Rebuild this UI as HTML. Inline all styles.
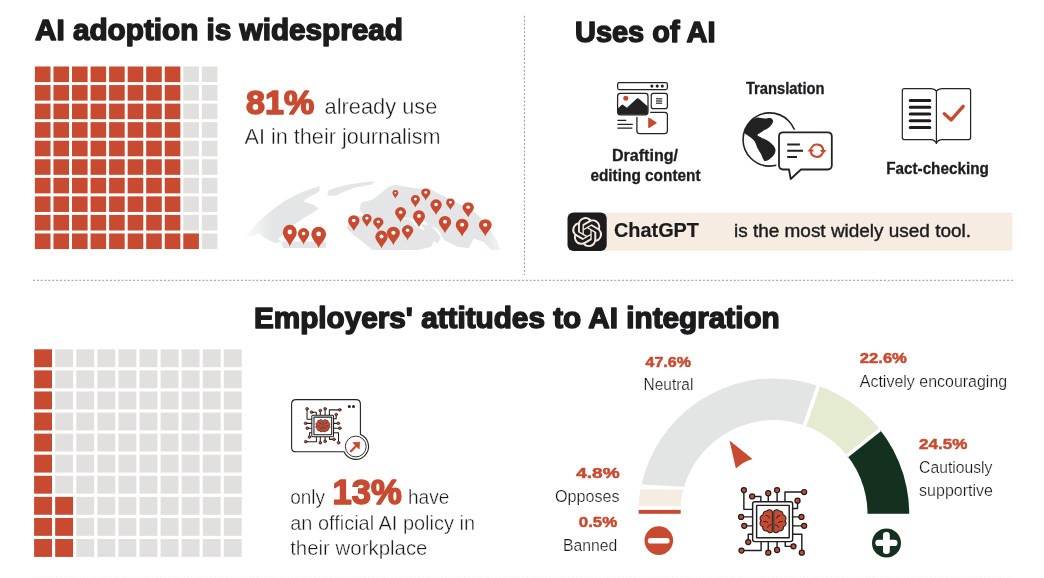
<!DOCTYPE html>
<html lang="en"><head><meta charset="utf-8"><title>AI adoption is widespread</title>
<style>
html,body{margin:0;padding:0;background:#fff}
body{width:1044px;height:578px;overflow:hidden;position:relative}
svg{display:block;position:absolute;left:0;top:0}
text{font-family:"Liberation Sans",Arial,Helvetica,sans-serif}
</style></head><body>
<svg width="1044" height="578" viewBox="0 0 1044 578">
<defs>
<path id="pin" d="M0 0C-.08-.3-.5-.62-.5-.95A.5.5 0 0 1 .5-.95C.5-.62.08-.3 0 0Z"/>
<linearGradient id="mapfade" x1="0" x2="1" y1="0" y2="0">
<stop offset="0" stop-color="#fff" stop-opacity="0"/><stop offset=".12" stop-color="#fff" stop-opacity="1"/>
<stop offset=".9" stop-color="#fff" stop-opacity="1"/><stop offset="1" stop-color="#fff" stop-opacity="0.2"/>
</linearGradient>
<filter id="soft" x="-5%" y="-10%" width="110%" height="120%"><feGaussianBlur stdDeviation=".45"/></filter>
<mask id="mapmask"><rect x="240" y="170" width="270" height="90" fill="url(#mapfade)"/></mask>
<clipPath id="ring"><path d="M638.4 513.800A135.400 135.400 0 0 1 909.200 513.800L867.500 513.800A93.700 93.700 0 0 0 680.100 513.800Z"/></clipPath>
<g id="chip" fill="none" stroke="#1e1e1e" style="stroke-width:var(--sw,2.1)" stroke-linejoin="round" stroke-linecap="round">
<path d="M7.4 4.1V32.2H20.2M19.5 13.3H32.2V21.1M43 8.7V21.1M55.9 4.1V21.1M95.4 6.9H67.4V21.1M85.7 19.5V31H78.6M3.4 43.2H20.2M8 56.3H20.2M13.8 80V68.5H20.2M3.9 92.4H32.6V79.3M43 95.4V79.3M55.9 91.5V79.3M67.8 79.3V86.2H79.8M92 95.4V68.5H78.6M78.6 43.2H91.5M78.6 56.3H95.4"/>
<rect x="20.2" y="21.1" width="58.4" height="58.2" rx="3" fill="#fff"/>
<rect x="26" y="26.4" width="47.6" height="47.2" fill="#fff"/>
<g fill="#C84B31" stroke-width="1.8">
<circle cx="7.4" cy="4.1" r="3.7"/><circle cx="19.5" cy="13.3" r="3.7"/><circle cx="43" cy="8.7" r="3.7"/><circle cx="55.9" cy="4.1" r="3.7"/>
<circle cx="95.4" cy="6.9" r="3.7"/><circle cx="85.7" cy="19.5" r="3.7"/><circle cx="3.4" cy="43.2" r="3.7"/><circle cx="8" cy="56.3" r="3.7"/>
<circle cx="13.8" cy="80" r="3.7"/><circle cx="3.9" cy="92.4" r="3.7"/><circle cx="43" cy="95.4" r="3.7"/><circle cx="55.9" cy="91.5" r="3.7"/>
<circle cx="79.8" cy="86.2" r="3.7"/><circle cx="92" cy="95.4" r="3.7"/><circle cx="91.5" cy="43.2" r="3.7"/><circle cx="95.4" cy="56.3" r="3.7"/>
<path d="M49 35A5 5 0 0 0 41 34.500A5 5 0 0 0 35.500 40A5.500 5.500 0 0 0 32.500 49A5 5 0 0 0 35 57.500A5 5 0 0 0 41.500 63.500A4.500 4.500 0 0 0 49 65ZM51 35A5 5 0 0 1 59 34.500A5 5 0 0 1 64.500 40A5.500 5.500 0 0 1 67.500 49A5 5 0 0 1 65 57.500A5 5 0 0 1 58.500 63.500A4.500 4.500 0 0 1 51 65Z" stroke-width="1.5"/>
</g>
<path d="M40 41q4 0 5 4M36.500 50q4-1 6 1.500M42 58.500q1-4 5-4M60 41q-4 0-5 4M63.500 50q-4-1-6 1.500M58 58.500q-1-4-5-4" stroke-width="1.3"/>
</g>
</defs>
<g stroke="#969696" stroke-width="1" stroke-dasharray="2 1.85" fill="none">
<path d="M33 280.3H1014.8"/><path d="M524.4 15.8V275"/>
</g>
<path d="M33 577.9H1014.8" stroke="#b5b5b5" stroke-width="1" stroke-dasharray="2 1.85" opacity=".35"/>
<text x="35" y="40.4" font-size="29.6" font-weight="700" fill="#1c1c1f" textLength="368" lengthAdjust="spacingAndGlyphs" stroke="#1c1c1f" stroke-width="1.5" stroke-linejoin="round">AI adoption is widespread</text>
<text x="575" y="41.8" font-size="29.6" font-weight="700" fill="#1c1c1f" textLength="140.5" lengthAdjust="spacingAndGlyphs" stroke="#1c1c1f" stroke-width="1.5" stroke-linejoin="round">Uses of AI</text>
<text x="254" y="328" font-size="29.6" font-weight="700" fill="#1c1c1f" textLength="525.7" lengthAdjust="spacingAndGlyphs" stroke="#1c1c1f" stroke-width="1.5" stroke-linejoin="round">Employers' attitudes to AI integration</text>
<g>
<rect x="34.90" y="66.50" width="15.6" height="15.6" fill="#C84B31"/>
<rect x="53.45" y="66.50" width="15.6" height="15.6" fill="#C84B31"/>
<rect x="72.00" y="66.50" width="15.6" height="15.6" fill="#C84B31"/>
<rect x="90.55" y="66.50" width="15.6" height="15.6" fill="#C84B31"/>
<rect x="109.10" y="66.50" width="15.6" height="15.6" fill="#C84B31"/>
<rect x="127.65" y="66.50" width="15.6" height="15.6" fill="#C84B31"/>
<rect x="146.20" y="66.50" width="15.6" height="15.6" fill="#C84B31"/>
<rect x="164.75" y="66.50" width="15.6" height="15.6" fill="#C84B31"/>
<rect x="183.30" y="66.50" width="15.6" height="15.6" fill="#E1E0DE"/>
<rect x="201.85" y="66.50" width="15.6" height="15.6" fill="#E1E0DE"/>
<rect x="34.90" y="85.05" width="15.6" height="15.6" fill="#C84B31"/>
<rect x="53.45" y="85.05" width="15.6" height="15.6" fill="#C84B31"/>
<rect x="72.00" y="85.05" width="15.6" height="15.6" fill="#C84B31"/>
<rect x="90.55" y="85.05" width="15.6" height="15.6" fill="#C84B31"/>
<rect x="109.10" y="85.05" width="15.6" height="15.6" fill="#C84B31"/>
<rect x="127.65" y="85.05" width="15.6" height="15.6" fill="#C84B31"/>
<rect x="146.20" y="85.05" width="15.6" height="15.6" fill="#C84B31"/>
<rect x="164.75" y="85.05" width="15.6" height="15.6" fill="#C84B31"/>
<rect x="183.30" y="85.05" width="15.6" height="15.6" fill="#E1E0DE"/>
<rect x="201.85" y="85.05" width="15.6" height="15.6" fill="#E1E0DE"/>
<rect x="34.90" y="103.60" width="15.6" height="15.6" fill="#C84B31"/>
<rect x="53.45" y="103.60" width="15.6" height="15.6" fill="#C84B31"/>
<rect x="72.00" y="103.60" width="15.6" height="15.6" fill="#C84B31"/>
<rect x="90.55" y="103.60" width="15.6" height="15.6" fill="#C84B31"/>
<rect x="109.10" y="103.60" width="15.6" height="15.6" fill="#C84B31"/>
<rect x="127.65" y="103.60" width="15.6" height="15.6" fill="#C84B31"/>
<rect x="146.20" y="103.60" width="15.6" height="15.6" fill="#C84B31"/>
<rect x="164.75" y="103.60" width="15.6" height="15.6" fill="#C84B31"/>
<rect x="183.30" y="103.60" width="15.6" height="15.6" fill="#E1E0DE"/>
<rect x="201.85" y="103.60" width="15.6" height="15.6" fill="#E1E0DE"/>
<rect x="34.90" y="122.15" width="15.6" height="15.6" fill="#C84B31"/>
<rect x="53.45" y="122.15" width="15.6" height="15.6" fill="#C84B31"/>
<rect x="72.00" y="122.15" width="15.6" height="15.6" fill="#C84B31"/>
<rect x="90.55" y="122.15" width="15.6" height="15.6" fill="#C84B31"/>
<rect x="109.10" y="122.15" width="15.6" height="15.6" fill="#C84B31"/>
<rect x="127.65" y="122.15" width="15.6" height="15.6" fill="#C84B31"/>
<rect x="146.20" y="122.15" width="15.6" height="15.6" fill="#C84B31"/>
<rect x="164.75" y="122.15" width="15.6" height="15.6" fill="#C84B31"/>
<rect x="183.30" y="122.15" width="15.6" height="15.6" fill="#E1E0DE"/>
<rect x="201.85" y="122.15" width="15.6" height="15.6" fill="#E1E0DE"/>
<rect x="34.90" y="140.70" width="15.6" height="15.6" fill="#C84B31"/>
<rect x="53.45" y="140.70" width="15.6" height="15.6" fill="#C84B31"/>
<rect x="72.00" y="140.70" width="15.6" height="15.6" fill="#C84B31"/>
<rect x="90.55" y="140.70" width="15.6" height="15.6" fill="#C84B31"/>
<rect x="109.10" y="140.70" width="15.6" height="15.6" fill="#C84B31"/>
<rect x="127.65" y="140.70" width="15.6" height="15.6" fill="#C84B31"/>
<rect x="146.20" y="140.70" width="15.6" height="15.6" fill="#C84B31"/>
<rect x="164.75" y="140.70" width="15.6" height="15.6" fill="#C84B31"/>
<rect x="183.30" y="140.70" width="15.6" height="15.6" fill="#E1E0DE"/>
<rect x="201.85" y="140.70" width="15.6" height="15.6" fill="#E1E0DE"/>
<rect x="34.90" y="159.25" width="15.6" height="15.6" fill="#C84B31"/>
<rect x="53.45" y="159.25" width="15.6" height="15.6" fill="#C84B31"/>
<rect x="72.00" y="159.25" width="15.6" height="15.6" fill="#C84B31"/>
<rect x="90.55" y="159.25" width="15.6" height="15.6" fill="#C84B31"/>
<rect x="109.10" y="159.25" width="15.6" height="15.6" fill="#C84B31"/>
<rect x="127.65" y="159.25" width="15.6" height="15.6" fill="#C84B31"/>
<rect x="146.20" y="159.25" width="15.6" height="15.6" fill="#C84B31"/>
<rect x="164.75" y="159.25" width="15.6" height="15.6" fill="#C84B31"/>
<rect x="183.30" y="159.25" width="15.6" height="15.6" fill="#E1E0DE"/>
<rect x="201.85" y="159.25" width="15.6" height="15.6" fill="#E1E0DE"/>
<rect x="34.90" y="177.80" width="15.6" height="15.6" fill="#C84B31"/>
<rect x="53.45" y="177.80" width="15.6" height="15.6" fill="#C84B31"/>
<rect x="72.00" y="177.80" width="15.6" height="15.6" fill="#C84B31"/>
<rect x="90.55" y="177.80" width="15.6" height="15.6" fill="#C84B31"/>
<rect x="109.10" y="177.80" width="15.6" height="15.6" fill="#C84B31"/>
<rect x="127.65" y="177.80" width="15.6" height="15.6" fill="#C84B31"/>
<rect x="146.20" y="177.80" width="15.6" height="15.6" fill="#C84B31"/>
<rect x="164.75" y="177.80" width="15.6" height="15.6" fill="#C84B31"/>
<rect x="183.30" y="177.80" width="15.6" height="15.6" fill="#E1E0DE"/>
<rect x="201.85" y="177.80" width="15.6" height="15.6" fill="#E1E0DE"/>
<rect x="34.90" y="196.35" width="15.6" height="15.6" fill="#C84B31"/>
<rect x="53.45" y="196.35" width="15.6" height="15.6" fill="#C84B31"/>
<rect x="72.00" y="196.35" width="15.6" height="15.6" fill="#C84B31"/>
<rect x="90.55" y="196.35" width="15.6" height="15.6" fill="#C84B31"/>
<rect x="109.10" y="196.35" width="15.6" height="15.6" fill="#C84B31"/>
<rect x="127.65" y="196.35" width="15.6" height="15.6" fill="#C84B31"/>
<rect x="146.20" y="196.35" width="15.6" height="15.6" fill="#C84B31"/>
<rect x="164.75" y="196.35" width="15.6" height="15.6" fill="#C84B31"/>
<rect x="183.30" y="196.35" width="15.6" height="15.6" fill="#E1E0DE"/>
<rect x="201.85" y="196.35" width="15.6" height="15.6" fill="#E1E0DE"/>
<rect x="34.90" y="214.90" width="15.6" height="15.6" fill="#C84B31"/>
<rect x="53.45" y="214.90" width="15.6" height="15.6" fill="#C84B31"/>
<rect x="72.00" y="214.90" width="15.6" height="15.6" fill="#C84B31"/>
<rect x="90.55" y="214.90" width="15.6" height="15.6" fill="#C84B31"/>
<rect x="109.10" y="214.90" width="15.6" height="15.6" fill="#C84B31"/>
<rect x="127.65" y="214.90" width="15.6" height="15.6" fill="#C84B31"/>
<rect x="146.20" y="214.90" width="15.6" height="15.6" fill="#C84B31"/>
<rect x="164.75" y="214.90" width="15.6" height="15.6" fill="#C84B31"/>
<rect x="183.30" y="214.90" width="15.6" height="15.6" fill="#E1E0DE"/>
<rect x="201.85" y="214.90" width="15.6" height="15.6" fill="#E1E0DE"/>
<rect x="34.90" y="233.45" width="15.6" height="15.6" fill="#C84B31"/>
<rect x="53.45" y="233.45" width="15.6" height="15.6" fill="#C84B31"/>
<rect x="72.00" y="233.45" width="15.6" height="15.6" fill="#C84B31"/>
<rect x="90.55" y="233.45" width="15.6" height="15.6" fill="#C84B31"/>
<rect x="109.10" y="233.45" width="15.6" height="15.6" fill="#C84B31"/>
<rect x="127.65" y="233.45" width="15.6" height="15.6" fill="#C84B31"/>
<rect x="146.20" y="233.45" width="15.6" height="15.6" fill="#C84B31"/>
<rect x="164.75" y="233.45" width="15.6" height="15.6" fill="#C84B31"/>
<rect x="183.30" y="233.45" width="15.6" height="15.6" fill="#C84B31"/>
<rect x="201.85" y="233.45" width="15.6" height="15.6" fill="#E1E0DE"/>
</g>
<g>
<rect x="34.10" y="349.30" width="17.9" height="17.9" fill="#C84B31"/>
<rect x="55.18" y="349.30" width="17.9" height="17.9" fill="#E1E0DE"/>
<rect x="76.26" y="349.30" width="17.9" height="17.9" fill="#E1E0DE"/>
<rect x="97.34" y="349.30" width="17.9" height="17.9" fill="#E1E0DE"/>
<rect x="118.42" y="349.30" width="17.9" height="17.9" fill="#E1E0DE"/>
<rect x="139.50" y="349.30" width="17.9" height="17.9" fill="#E1E0DE"/>
<rect x="160.58" y="349.30" width="17.9" height="17.9" fill="#E1E0DE"/>
<rect x="181.66" y="349.30" width="17.9" height="17.9" fill="#E1E0DE"/>
<rect x="202.74" y="349.30" width="17.9" height="17.9" fill="#E1E0DE"/>
<rect x="223.82" y="349.30" width="17.9" height="17.9" fill="#E1E0DE"/>
<rect x="34.10" y="370.38" width="17.9" height="17.9" fill="#C84B31"/>
<rect x="55.18" y="370.38" width="17.9" height="17.9" fill="#E1E0DE"/>
<rect x="76.26" y="370.38" width="17.9" height="17.9" fill="#E1E0DE"/>
<rect x="97.34" y="370.38" width="17.9" height="17.9" fill="#E1E0DE"/>
<rect x="118.42" y="370.38" width="17.9" height="17.9" fill="#E1E0DE"/>
<rect x="139.50" y="370.38" width="17.9" height="17.9" fill="#E1E0DE"/>
<rect x="160.58" y="370.38" width="17.9" height="17.9" fill="#E1E0DE"/>
<rect x="181.66" y="370.38" width="17.9" height="17.9" fill="#E1E0DE"/>
<rect x="202.74" y="370.38" width="17.9" height="17.9" fill="#E1E0DE"/>
<rect x="223.82" y="370.38" width="17.9" height="17.9" fill="#E1E0DE"/>
<rect x="34.10" y="391.46" width="17.9" height="17.9" fill="#C84B31"/>
<rect x="55.18" y="391.46" width="17.9" height="17.9" fill="#E1E0DE"/>
<rect x="76.26" y="391.46" width="17.9" height="17.9" fill="#E1E0DE"/>
<rect x="97.34" y="391.46" width="17.9" height="17.9" fill="#E1E0DE"/>
<rect x="118.42" y="391.46" width="17.9" height="17.9" fill="#E1E0DE"/>
<rect x="139.50" y="391.46" width="17.9" height="17.9" fill="#E1E0DE"/>
<rect x="160.58" y="391.46" width="17.9" height="17.9" fill="#E1E0DE"/>
<rect x="181.66" y="391.46" width="17.9" height="17.9" fill="#E1E0DE"/>
<rect x="202.74" y="391.46" width="17.9" height="17.9" fill="#E1E0DE"/>
<rect x="223.82" y="391.46" width="17.9" height="17.9" fill="#E1E0DE"/>
<rect x="34.10" y="412.54" width="17.9" height="17.9" fill="#C84B31"/>
<rect x="55.18" y="412.54" width="17.9" height="17.9" fill="#E1E0DE"/>
<rect x="76.26" y="412.54" width="17.9" height="17.9" fill="#E1E0DE"/>
<rect x="97.34" y="412.54" width="17.9" height="17.9" fill="#E1E0DE"/>
<rect x="118.42" y="412.54" width="17.9" height="17.9" fill="#E1E0DE"/>
<rect x="139.50" y="412.54" width="17.9" height="17.9" fill="#E1E0DE"/>
<rect x="160.58" y="412.54" width="17.9" height="17.9" fill="#E1E0DE"/>
<rect x="181.66" y="412.54" width="17.9" height="17.9" fill="#E1E0DE"/>
<rect x="202.74" y="412.54" width="17.9" height="17.9" fill="#E1E0DE"/>
<rect x="223.82" y="412.54" width="17.9" height="17.9" fill="#E1E0DE"/>
<rect x="34.10" y="433.62" width="17.9" height="17.9" fill="#C84B31"/>
<rect x="55.18" y="433.62" width="17.9" height="17.9" fill="#E1E0DE"/>
<rect x="76.26" y="433.62" width="17.9" height="17.9" fill="#E1E0DE"/>
<rect x="97.34" y="433.62" width="17.9" height="17.9" fill="#E1E0DE"/>
<rect x="118.42" y="433.62" width="17.9" height="17.9" fill="#E1E0DE"/>
<rect x="139.50" y="433.62" width="17.9" height="17.9" fill="#E1E0DE"/>
<rect x="160.58" y="433.62" width="17.9" height="17.9" fill="#E1E0DE"/>
<rect x="181.66" y="433.62" width="17.9" height="17.9" fill="#E1E0DE"/>
<rect x="202.74" y="433.62" width="17.9" height="17.9" fill="#E1E0DE"/>
<rect x="223.82" y="433.62" width="17.9" height="17.9" fill="#E1E0DE"/>
<rect x="34.10" y="454.70" width="17.9" height="17.9" fill="#C84B31"/>
<rect x="55.18" y="454.70" width="17.9" height="17.9" fill="#E1E0DE"/>
<rect x="76.26" y="454.70" width="17.9" height="17.9" fill="#E1E0DE"/>
<rect x="97.34" y="454.70" width="17.9" height="17.9" fill="#E1E0DE"/>
<rect x="118.42" y="454.70" width="17.9" height="17.9" fill="#E1E0DE"/>
<rect x="139.50" y="454.70" width="17.9" height="17.9" fill="#E1E0DE"/>
<rect x="160.58" y="454.70" width="17.9" height="17.9" fill="#E1E0DE"/>
<rect x="181.66" y="454.70" width="17.9" height="17.9" fill="#E1E0DE"/>
<rect x="202.74" y="454.70" width="17.9" height="17.9" fill="#E1E0DE"/>
<rect x="223.82" y="454.70" width="17.9" height="17.9" fill="#E1E0DE"/>
<rect x="34.10" y="475.78" width="17.9" height="17.9" fill="#C84B31"/>
<rect x="55.18" y="475.78" width="17.9" height="17.9" fill="#E1E0DE"/>
<rect x="76.26" y="475.78" width="17.9" height="17.9" fill="#E1E0DE"/>
<rect x="97.34" y="475.78" width="17.9" height="17.9" fill="#E1E0DE"/>
<rect x="118.42" y="475.78" width="17.9" height="17.9" fill="#E1E0DE"/>
<rect x="139.50" y="475.78" width="17.9" height="17.9" fill="#E1E0DE"/>
<rect x="160.58" y="475.78" width="17.9" height="17.9" fill="#E1E0DE"/>
<rect x="181.66" y="475.78" width="17.9" height="17.9" fill="#E1E0DE"/>
<rect x="202.74" y="475.78" width="17.9" height="17.9" fill="#E1E0DE"/>
<rect x="223.82" y="475.78" width="17.9" height="17.9" fill="#E1E0DE"/>
<rect x="34.10" y="496.86" width="17.9" height="17.9" fill="#C84B31"/>
<rect x="55.18" y="496.86" width="17.9" height="17.9" fill="#C84B31"/>
<rect x="76.26" y="496.86" width="17.9" height="17.9" fill="#E1E0DE"/>
<rect x="97.34" y="496.86" width="17.9" height="17.9" fill="#E1E0DE"/>
<rect x="118.42" y="496.86" width="17.9" height="17.9" fill="#E1E0DE"/>
<rect x="139.50" y="496.86" width="17.9" height="17.9" fill="#E1E0DE"/>
<rect x="160.58" y="496.86" width="17.9" height="17.9" fill="#E1E0DE"/>
<rect x="181.66" y="496.86" width="17.9" height="17.9" fill="#E1E0DE"/>
<rect x="202.74" y="496.86" width="17.9" height="17.9" fill="#E1E0DE"/>
<rect x="223.82" y="496.86" width="17.9" height="17.9" fill="#E1E0DE"/>
<rect x="34.10" y="517.94" width="17.9" height="17.9" fill="#C84B31"/>
<rect x="55.18" y="517.94" width="17.9" height="17.9" fill="#C84B31"/>
<rect x="76.26" y="517.94" width="17.9" height="17.9" fill="#E1E0DE"/>
<rect x="97.34" y="517.94" width="17.9" height="17.9" fill="#E1E0DE"/>
<rect x="118.42" y="517.94" width="17.9" height="17.9" fill="#E1E0DE"/>
<rect x="139.50" y="517.94" width="17.9" height="17.9" fill="#E1E0DE"/>
<rect x="160.58" y="517.94" width="17.9" height="17.9" fill="#E1E0DE"/>
<rect x="181.66" y="517.94" width="17.9" height="17.9" fill="#E1E0DE"/>
<rect x="202.74" y="517.94" width="17.9" height="17.9" fill="#E1E0DE"/>
<rect x="223.82" y="517.94" width="17.9" height="17.9" fill="#E1E0DE"/>
<rect x="34.10" y="539.02" width="17.9" height="17.9" fill="#C84B31"/>
<rect x="55.18" y="539.02" width="17.9" height="17.9" fill="#C84B31"/>
<rect x="76.26" y="539.02" width="17.9" height="17.9" fill="#E1E0DE"/>
<rect x="97.34" y="539.02" width="17.9" height="17.9" fill="#E1E0DE"/>
<rect x="118.42" y="539.02" width="17.9" height="17.9" fill="#E1E0DE"/>
<rect x="139.50" y="539.02" width="17.9" height="17.9" fill="#E1E0DE"/>
<rect x="160.58" y="539.02" width="17.9" height="17.9" fill="#E1E0DE"/>
<rect x="181.66" y="539.02" width="17.9" height="17.9" fill="#E1E0DE"/>
<rect x="202.74" y="539.02" width="17.9" height="17.9" fill="#E1E0DE"/>
<rect x="223.82" y="539.02" width="17.9" height="17.9" fill="#E1E0DE"/>
</g>
<text x="246" y="113.7" font-size="33.8" font-weight="700" fill="#C84B31" textLength="68.2" lengthAdjust="spacingAndGlyphs" stroke="#C84B31" stroke-width="1.6" stroke-linejoin="round">81%</text>
<text x="324.6" y="113.7" font-size="22" font-weight="400" fill="#161616" textLength="112.7" lengthAdjust="spacingAndGlyphs" stroke="#fff" stroke-width="0.4" stroke-linejoin="round">already use</text>
<text x="244.5" y="143.9" font-size="22" font-weight="400" fill="#161616" textLength="196" lengthAdjust="spacingAndGlyphs" stroke="#fff" stroke-width="0.4" stroke-linejoin="round">AI in their journalism</text>
<g mask="url(#mapmask)" fill="#E4E5E6" filter="url(#soft)">
<path d="M 245.8 236.0 C 254.5 224.3 269.1 211.2 283.6 201.8 C 295.2 194.5 306.9 189.4 320.0 186.2 L 319.2 191.6 L 312.7 195.3 L 305.4 198.9 L 304.0 201.8 L 314.1 204.7 L 318.5 209.1 L 311.2 213.4 L 304.0 217.8 L 296.0 223.6 L 288.0 229.4 L 282.2 235.2 L 278.1 239.2 L 281.4 241.5 L 276.3 243.2 L 269.1 240.3 L 261.8 236.0 L 258.9 233.1 L 253.1 236.0 Z"/>
<path d="M 328.7 190.2 C 338.9 185.8 356.3 182.2 375.2 181.2 L 371.6 184.4 L 356.3 187.3 L 344.7 191.6 L 334.5 196.0 L 327.2 195.5 Z"/>
<path d="M 281.4 241.5 L 325.8 241.5 L 325.8 247.9 L 282.9 247.9 Z"/>
<path d="M 359.5 209.2 L 361.2 202.7 L 372.6 199.4 L 379.1 194.5 L 388.9 186.4 L 395.4 184.8 L 413.3 188.0 L 431.2 189.7 L 454.0 201.1 L 475.2 212.5 L 486.6 223.9 L 496.4 240.1 L 500.4 249.9 L 491.5 249.9 L 483.3 241.8 L 473.6 238.5 L 468.7 248.3 L 457.3 246.7 L 444.2 240.1 L 437.7 228.7 L 427.9 224.7 L 424.7 220.3 L 411.7 219.0 L 405.1 218.0 L 395.4 219.3 L 385.6 217.7 L 372.6 217.7 L 364.4 215.7 Z"/>
<path d="M 346.5 228.7 L 349.8 220.6 L 359.5 215.4 L 372.6 216.7 L 393.7 218.6 L 410.0 219.3 L 416.5 227.1 L 424.7 230.4 L 434.5 240.1 L 431.2 246.7 L 418.2 249.9 L 372.6 249.9 L 356.3 236.9 Z"/>
<path d="M 421.4 223.9 L 431.2 225.5 L 441.0 236.9 L 437.7 243.4 L 427.9 236.9 Z"/>
</g>
<g fill="#C84B31">
<g transform="translate(289.8 246.6) scale(14.02 15.04)"><use href="#pin"/><circle cx="0" cy="-.97" r=".16" fill="#fff"/></g>
<g transform="translate(303.6 244.5) scale(11.21 11.39)"><use href="#pin"/><circle cx="0" cy="-.97" r=".16" fill="#fff"/></g>
<g transform="translate(318.7 248.2) scale(14.80 14.72)"><use href="#pin"/><circle cx="0" cy="-.97" r=".16" fill="#fff"/></g>
<g transform="translate(353.8 231.1) scale(11.40 11.01)"><use href="#pin"/><circle cx="0" cy="-.97" r=".16" fill="#fff"/></g>
<g transform="translate(366.9 227.0) scale(9.45 8.99)"><use href="#pin"/><circle cx="0" cy="-.97" r=".16" fill="#fff"/></g>
<g transform="translate(378.3 230.3) scale(10.42 8.76)"><use href="#pin"/><circle cx="0" cy="-.97" r=".16" fill="#fff"/></g>
<g transform="translate(400.6 222.4) scale(11.07 10.56)"><use href="#pin"/><circle cx="0" cy="-.97" r=".16" fill="#fff"/></g>
<g transform="translate(395.4 198.5) scale(5.86 5.84)"><use href="#pin"/><circle cx="0" cy="-.97" r=".16" fill="#fff"/></g>
<g transform="translate(415.4 207.5) scale(9.12 8.65)"><use href="#pin"/><circle cx="0" cy="-.97" r=".16" fill="#fff"/></g>
<g transform="translate(425.8 200.6) scale(9.12 8.42)"><use href="#pin"/><circle cx="0" cy="-.97" r=".16" fill="#fff"/></g>
<g transform="translate(419.0 227.3) scale(12.05 11.68)"><use href="#pin"/><circle cx="0" cy="-.97" r=".16" fill="#fff"/></g>
<g transform="translate(436.1 214.8) scale(11.40 10.67)"><use href="#pin"/><circle cx="0" cy="-.97" r=".16" fill="#fff"/></g>
<g transform="translate(450.4 209.9) scale(8.47 7.86)"><use href="#pin"/><circle cx="0" cy="-.97" r=".16" fill="#fff"/></g>
<g transform="translate(468.2 217.2) scale(11.40 10.33)"><use href="#pin"/><circle cx="0" cy="-.97" r=".16" fill="#fff"/></g>
<g transform="translate(445.0 233.2) scale(12.38 11.91)"><use href="#pin"/><circle cx="0" cy="-.97" r=".16" fill="#fff"/></g>
<g transform="translate(462.1 236.4) scale(12.70 12.13)"><use href="#pin"/><circle cx="0" cy="-.97" r=".16" fill="#fff"/></g>
<g transform="translate(485.3 236.4) scale(12.70 11.91)"><use href="#pin"/><circle cx="0" cy="-.97" r=".16" fill="#fff"/></g>
<g transform="translate(407.6 240.4) scale(11.40 10.56)"><use href="#pin"/><circle cx="0" cy="-.97" r=".16" fill="#fff"/></g>
<g transform="translate(381.5 248.5) scale(12.38 12.36)"><use href="#pin"/><circle cx="0" cy="-.97" r=".16" fill="#fff"/></g>
<g transform="translate(393.4 245.2) scale(13.03 12.80)"><use href="#pin"/><circle cx="0" cy="-.97" r=".16" fill="#fff"/></g>
</g>
<g fill="none" stroke="#222" stroke-width="1.25" stroke-linejoin="round">
<rect x="617.6" y="82.6" width="49.8" height="7" rx="1.8" fill="#fff"/>
<rect x="651.2" y="93.4" width="16.2" height="15.2" rx="2.2" fill="#fff"/>
<rect x="636.9" y="112.3" width="30.5" height="21.2" rx="2.8" fill="#fff"/>
<rect x="617.6" y="93.4" width="30.4" height="21.4" rx="2.8" fill="#fff" stroke="#fff" stroke-width="4.5"/>
<rect x="617.6" y="93.4" width="30.4" height="21.4" rx="2.8" fill="#fff"/>
<path d="M617.4 120.4H626.2M617.4 124.3H632.8M617.4 128.1H632.3" stroke-width="1.2"/>
</g>
<path d="M617.8 108.500L621.900 104.700Q622.600 104.200 623.300 104.900L626.900 107.700L636.800 98.600Q637.700 97.900 638.600 98.600L647.800 106.600V112Q647.800 114.600 645.200 114.600H620.400Q617.800 114.600 617.800 112Z" fill="#222"/>
<circle cx="625.8" cy="98.2" r="2.5" fill="#C84B31"/>
<path d="M648.9 118.300L655.900 122.800L648.900 127.300Z" fill="#C84B31" stroke="#C84B31" stroke-width="1.4" stroke-linejoin="round"/>
<g fill="#222"><circle cx="651.9" cy="86.1" r="1.55"/><circle cx="657.2" cy="86.1" r="1.55"/><circle cx="662.3" cy="86.1" r="1.55"/></g>
<path d="M656 98.600H662.200M656 100.200H662.200M656 101.800H662.200M656 103.400H662.200" stroke="#555" stroke-width="1.1"/>
<text x="645" y="160.5" font-size="16" font-weight="700" fill="#1c1c1f" text-anchor="middle" textLength="66" lengthAdjust="spacingAndGlyphs" stroke="#1c1c1f" stroke-width="0.3" stroke-linejoin="round">Drafting/</text>
<text x="645.5" y="181.4" font-size="16" font-weight="700" fill="#1c1c1f" text-anchor="middle" textLength="110.2" lengthAdjust="spacingAndGlyphs" stroke="#1c1c1f" stroke-width="0.3" stroke-linejoin="round">editing content</text>
<text x="745.9" y="94.1" font-size="15.8" font-weight="700" fill="#1c1c1f" textLength="78.7" lengthAdjust="spacingAndGlyphs" stroke="#1c1c1f" stroke-width="0.3" stroke-linejoin="round">Translation</text>
<g>
<circle cx="769.65" cy="139.5" r="26.6" fill="#fff" stroke="#222" stroke-width="1.6"/>
<path d="M744.1 131.8C744.4 130.1 746.4 126.7 748.0 124.6C749.5 122.5 751.8 120.3 753.5 119.1C755.2 117.9 756.1 117.5 757.9 117.4C759.8 117.3 762.5 118.4 764.6 118.5C766.6 118.6 768.7 117.7 770.1 118.0C771.5 118.2 772.5 119.3 772.9 120.2C773.3 121.1 773.0 122.3 772.3 123.5C771.7 124.7 770.3 126.3 769.0 127.4C767.7 128.5 766.1 129.2 764.6 130.1C763.1 131.1 761.3 132.1 760.1 132.9C758.9 133.7 757.1 134.3 757.4 135.1C757.7 136.0 760.1 137.0 761.8 137.9C763.6 138.8 766.1 139.5 767.9 140.7C769.7 141.9 771.6 143.6 772.9 145.1C774.1 146.6 775.2 148.1 775.4 149.5C775.7 151.0 775.2 152.6 774.5 154.0C773.8 155.3 772.4 156.7 771.2 157.8C770.0 158.9 768.5 160.1 767.3 160.6C766.2 161.1 765.3 161.3 764.6 160.9C763.8 160.6 763.6 159.6 762.9 158.4C762.3 157.1 761.6 155.2 760.7 153.4C759.8 151.7 758.2 149.5 757.4 147.9C756.5 146.2 756.4 144.7 755.7 143.4C755.1 142.1 754.5 141.2 753.5 140.1C752.5 139.0 750.8 137.7 749.6 136.8C748.4 135.9 747.2 135.4 746.3 134.6C745.4 133.7 743.8 133.5 744.1 131.8Z" fill="#222"/>
<path d="M783.2 132.4H827.6Q831.8 132.4 831.8 136.600V165.300Q831.8 169.500 827.6 169.500H801L790.700 179L789 169.500H783.200Q779 169.500 779 165.300V136.600Q779 132.400 783.200 132.400Z" fill="#fff" stroke="#fff" stroke-width="5.5" stroke-linejoin="round"/>
<path d="M783.2 132.4H827.6Q831.8 132.4 831.8 136.600V165.300Q831.8 169.500 827.6 169.500H801L790.700 179L789 169.500H783.200Q779 169.500 779 165.300V136.600Q779 132.400 783.200 132.400Z" fill="#fff" stroke="#222" stroke-width="1.8" stroke-linejoin="round"/>
<path d="M787.2 144.500H799.900M787.200 150.700H803M787.200 157H797" stroke="#222" stroke-width="2"/>
<g fill="none" stroke="#C84B31" stroke-width="2.1"><path d="M811.400 148.100A6.200 6.200 0 0 1 823.200 150.200"/><path d="M822.600 153.300A6.200 6.200 0 0 1 810.800 151.200"/></g>
<path d="M819.800 150L826.600 150L823.200 154ZM807.400 151.400L814.200 151.400L810.800 147.400Z" fill="#C84B31"/>
</g>
<g fill="#fff" stroke="#222" stroke-width="1.2" stroke-linejoin="round">
<path d="M936.4 91.2Q934.5 88.700 930.500 88.700H904.3Q902.3 88.700 902.3 90.700V137.600Q902.3 139.600 904.3 139.600H930.500Q935 139.600 936.4 143.500Q937.800 139.600 942.300 139.600H968.6Q970.6 139.600 970.6 137.600V90.700Q970.6 88.700 968.6 88.700H942.300Q938.300 88.700 936.4 91.2Z"/>
<path d="M936.4 91.2V143"/>
</g>
<path d="M910.2 100.500H929.800M910.200 107.300H929.800M910.200 114.100H929.800M910.200 120.800H929.800M910.200 127.600H929.800" stroke="#1c1c1c" stroke-width="3" stroke-linecap="round"/>
<path d="M944.3 113.700L951.200 119.900L963.200 106.400" fill="none" stroke="#C84B31" stroke-width="3.4" stroke-linecap="round" stroke-linejoin="round"/>
<text x="886.2" y="174" font-size="15.8" font-weight="700" fill="#1c1c1f" textLength="102.6" lengthAdjust="spacingAndGlyphs" stroke="#1c1c1f" stroke-width="0.3" stroke-linejoin="round">Fact-checking</text>
<rect x="575" y="212.6" width="437.4" height="38.2" rx="3" fill="#F6ECE1"/>
<rect x="567.5" y="212.6" width="39.2" height="38.4" rx="6" fill="#1c1c1f"/>
<g transform="translate(572.1 217.1) scale(1.25)" fill="#F3E9DC"><path d="M22.2819 9.8211a5.9847 5.9847 0 0 0-.5157-4.9108 6.0462 6.0462 0 0 0-6.5098-2.9A6.0651 6.0651 0 0 0 4.9807 4.1818a5.9847 5.9847 0 0 0-3.9977 2.9 6.0462 6.0462 0 0 0 .7427 7.0966 5.98 5.98 0 0 0 .511 4.9107 6.051 6.051 0 0 0 6.5146 2.9001A5.9847 5.9847 0 0 0 13.2599 24a6.0557 6.0557 0 0 0 5.7718-4.2058 5.9894 5.9894 0 0 0 3.9977-2.9001 6.0557 6.0557 0 0 0-.7475-7.0729zm-9.022 12.6081a4.4755 4.4755 0 0 1-2.8764-1.0408l.1419-.0804 4.7783-2.7582a.7948.7948 0 0 0 .3927-.6813v-6.7369l2.02 1.1686a.071.071 0 0 1 .038.052v5.5826a4.504 4.504 0 0 1-4.4945 4.4944zm-9.6607-4.1254a4.4708 4.4708 0 0 1-.5346-3.0137l.142.0852 4.783 2.7582a.7712.7712 0 0 0 .7806 0l5.8428-3.3685v2.3324a.0804.0804 0 0 1-.0332.0615L9.74 19.9502a4.4992 4.4992 0 0 1-6.1408-1.6464zM2.3408 7.8956a4.485 4.485 0 0 1 2.3655-1.9728V11.6a.7664.7664 0 0 0 .3879.6765l5.8144 3.3543-2.0201 1.1685a.0757.0757 0 0 1-.071 0l-4.8303-2.7865A4.504 4.504 0 0 1 2.3408 7.872zm16.5963 3.8558L13.1038 8.364 15.1192 7.2a.0757.0757 0 0 1 .071 0l4.8303 2.7913a4.4944 4.4944 0 0 1-.6765 8.1042v-5.6772a.79.79 0 0 0-.407-.667zm2.0107-3.0231l-.142-.0852-4.7735-2.7818a.7759.7759 0 0 0-.7854 0L9.409 9.2297V6.8974a.0662.0662 0 0 1 .0284-.0615l4.8303-2.7866a4.4992 4.4992 0 0 1 6.6802 4.66zM8.3065 12.863l-2.02-1.1638a.0804.0804 0 0 1-.038-.0567V6.0742a4.4992 4.4992 0 0 1 7.3757-3.4537l-.142.0805L8.704 5.459a.7948.7948 0 0 0-.3927.6813zm1.0976-2.3654l2.602-1.4998 2.6069 1.4998v2.9994l-2.5974 1.4997-2.6067-1.4997Z"/></g>
<text x="614" y="237.2" font-size="19.3" font-weight="700" fill="#1c1c1f" textLength="85" lengthAdjust="spacingAndGlyphs" stroke="#1c1c1f" stroke-width="0.2" stroke-linejoin="round">ChatGPT</text>
<text x="734" y="237.2" font-size="18" font-weight="400" fill="#1c1c1f" textLength="237" lengthAdjust="spacingAndGlyphs" stroke="#1c1c1f" stroke-width="0.4" stroke-linejoin="round">is the most widely used tool.</text>
<path d="M296 399.600H356Q360.400 399.600 360.400 404V434.500A12.850 12.850 0 1 1 344 451.800H296Q291.600 451.800 291.600 447.400V404Q291.600 399.600 296 399.600Z" fill="#fff" stroke="#222" stroke-width="1.1"/>
<circle cx="349.3" cy="406.6" r="1.5" fill="#222"/><circle cx="353.5" cy="406.600" r="1.5" fill="#222"/>
<use href="#chip" style="--sw:2.8" transform="translate(304.3 407.3) scale(.372)"/>
<circle cx="355.8" cy="446.5" r="10.4" fill="#fff" stroke="#333" stroke-width="1"/>
<path d="M351 451.200L357 445" fill="none" stroke="#C84B31" stroke-width="2.3" stroke-linecap="round"/>
<path d="M352.900 442.700L359.700 442.100L359.100 448.900Z" fill="#C84B31" stroke="#C84B31" stroke-width=".8" stroke-linejoin="round"/>
<text x="290.2" y="504.1" font-size="20.5" font-weight="400" fill="#161616" textLength="34.8" lengthAdjust="spacingAndGlyphs" stroke="#fff" stroke-width="0.4" stroke-linejoin="round">only</text>
<text x="332.5" y="504.1" font-size="35" font-weight="700" fill="#C84B31" textLength="69.2" lengthAdjust="spacingAndGlyphs" stroke="#C84B31" stroke-width="1.6" stroke-linejoin="round">13%</text>
<text x="408" y="504.1" font-size="20.5" font-weight="400" fill="#161616" textLength="41.3" lengthAdjust="spacingAndGlyphs" stroke="#fff" stroke-width="0.4" stroke-linejoin="round">have</text>
<text x="290.2" y="529.7" font-size="20.5" font-weight="400" fill="#161616" textLength="184.8" lengthAdjust="spacingAndGlyphs" stroke="#fff" stroke-width="0.4" stroke-linejoin="round">an official AI policy in</text>
<text x="290.2" y="554.5" font-size="20.5" font-weight="400" fill="#161616" textLength="137.3" lengthAdjust="spacingAndGlyphs" stroke="#fff" stroke-width="0.4" stroke-linejoin="round">their workplace</text>
<g clip-path="url(#ring)">
<rect x="630" y="370" width="290" height="150" fill="#E3E5E5"/>
<polygon points="773.8,513.7 839.6,324.8 924.6,301.9 930.8,389.7" fill="#E4EBD1"/>
<polygon points="773.8,513.7 930.8,389.7 1022.9,439.2 973.0,531.1" fill="#14301F"/>
<path d="M800.1 438.1L823.1 372.0" stroke="#fff" stroke-width="3.6"/>
<path d="M836.6 464.1L891.5 420.7" stroke="#fff" stroke-width="3.6"/>
<polygon points="630,483.8 690,487.1 690,520 630,520" fill="#fff"/>
<polygon points="630,489.1 690,489.8 690,506.3 630,506.3" fill="#F6EDE2"/>
</g>
<rect x="638.7" y="509.9" width="42" height="3.9" fill="#C84B31"/>
<path d="M729.5 440.6L752.5 459Q743.500 461.500 735.9 468.6Z" fill="#C84B31"/>
<circle cx="658.8" cy="540.6" r="14.3" fill="#C84B31"/><rect x="647.8" y="537.9" width="21.8" height="5.6" rx="2.8" fill="#fff"/>
<circle cx="886.5" cy="542.9" r="14.5" fill="#14301F"/><rect x="875.3" y="539.8" width="22.2" height="6.3" rx="3.1" fill="#fff"/><rect x="883" y="532.1" width="6.8" height="21.8" rx="3.2" fill="#fff"/>
<use href="#chip" transform="translate(738.800 487.300) scale(.685)"/>
<text x="645.5" y="366.8" font-size="15.2" font-weight="700" fill="#C84B31" textLength="45.4" lengthAdjust="spacingAndGlyphs" stroke="#C84B31" stroke-width="0.5" stroke-linejoin="round">47.6%</text>
<text x="643.6" y="390.4" font-size="16.3" font-weight="400" fill="#161616" textLength="49.8" lengthAdjust="spacingAndGlyphs" stroke="#fff" stroke-width="0.24" stroke-linejoin="round">Neutral</text>
<text x="859.8" y="362.9" font-size="15.2" font-weight="700" fill="#C84B31" textLength="47.1" lengthAdjust="spacingAndGlyphs" stroke="#C84B31" stroke-width="0.5" stroke-linejoin="round">22.6%</text>
<text x="859.8" y="386.6" font-size="16.3" font-weight="400" fill="#161616" textLength="147.4" lengthAdjust="spacingAndGlyphs" stroke="#fff" stroke-width="0.24" stroke-linejoin="round">Actively encouraging</text>
<text x="919.1" y="448.5" font-size="15.2" font-weight="700" fill="#C84B31" textLength="48.3" lengthAdjust="spacingAndGlyphs" stroke="#C84B31" stroke-width="0.5" stroke-linejoin="round">24.5%</text>
<text x="919.1" y="472.8" font-size="16.3" font-weight="400" fill="#161616" textLength="73.3" lengthAdjust="spacingAndGlyphs" stroke="#fff" stroke-width="0.24" stroke-linejoin="round">Cautiously</text>
<text x="919.1" y="495.6" font-size="16.3" font-weight="400" fill="#161616" textLength="73.9" lengthAdjust="spacingAndGlyphs" stroke="#fff" stroke-width="0.24" stroke-linejoin="round">supportive</text>
<text x="576.2" y="477.9" font-size="15.2" font-weight="700" fill="#C84B31" textLength="43.4" lengthAdjust="spacingAndGlyphs" stroke="#C84B31" stroke-width="0.5" stroke-linejoin="round">4.8%</text>
<text x="555" y="502.2" font-size="16.3" font-weight="400" fill="#161616" textLength="64.6" lengthAdjust="spacingAndGlyphs" stroke="#fff" stroke-width="0.24" stroke-linejoin="round">Opposes</text>
<text x="578.8" y="527" font-size="15.2" font-weight="700" fill="#C84B31" textLength="38.4" lengthAdjust="spacingAndGlyphs" stroke="#C84B31" stroke-width="0.5" stroke-linejoin="round">0.5%</text>
<text x="562.9" y="551.1" font-size="16.3" font-weight="400" fill="#161616" textLength="54.3" lengthAdjust="spacingAndGlyphs" stroke="#fff" stroke-width="0.24" stroke-linejoin="round">Banned</text>
</svg></body></html>
